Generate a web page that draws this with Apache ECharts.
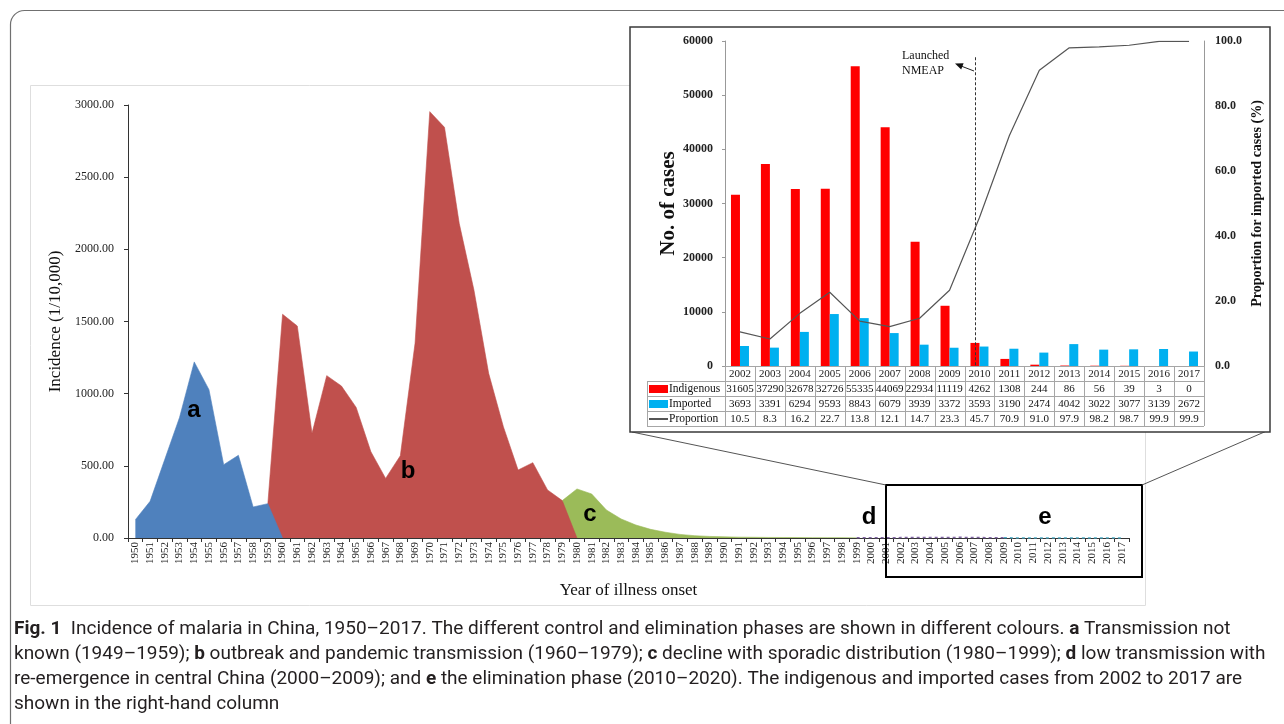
<!DOCTYPE html>
<html><head><meta charset="utf-8">
<script src="https://cdn.jsdelivr.net/npm/echarts@6/dist/echarts.min.js"></script>
<style>html,body{margin:0;padding:0;background:#fff;}#c{width:1284px;height:724px;}</style>
</head><body><div id="c"></div>
<script>
// ---------- DATA ----------
const years = [];
for (let y = 1950; y <= 2017; y++) years.push(String(y));

// Incidence (1/10,000), by phase
const phaseA = [127, 254, 545, 835, 1220, 1028, 508, 573, 215, 238];              // 1950-1959
const phaseB = [1550, 1469, 725, 1125, 1053, 905, 598, 413, 570, 1349,
                2954, 2845, 2180, 1718, 1141, 771, 471, 522, 333, 259];            // 1960-1979
const phaseC = [340, 305, 194, 132, 90, 60, 40, 25, 16, 11,
                8, 6, 5, 4, 3.5, 3, 2.5, 2.5, 2.5, 2];                             // 1980-1999
const phaseD = [2, 2, 2.7, 2.9, 3, 3.1, 4.6, 3.5, 2, 1.1];                          // 2000-2009
const phaseE = [0.6, 0.3, 0.2, 0.3, 0.2, 0.2, 0.2, 0.2];                            // 2010-2017

const yTicksMain = [0, 500, 1000, 1500, 2000, 2500, 3000];

// Inset: cases 2002-2017
const insetYears = ['2002','2003','2004','2005','2006','2007','2008','2009','2010','2011','2012','2013','2014','2015','2016','2017'];
const indigenous = [31605, 37290, 32678, 32726, 55335, 44069, 22934, 11119, 4262, 1308, 244, 86, 56, 39, 3, 0];
const imported   = [3693, 3391, 6294, 9593, 8843, 6079, 3939, 3372, 3593, 3190, 2474, 4042, 3022, 3077, 3139, 2672];
const proportion = [10.5, 8.3, 16.2, 22.7, 13.8, 12.1, 14.7, 23.3, 45.7, 70.9, 91.0, 97.9, 98.2, 98.7, 99.9, 99.9];

// ---------- helpers to place each phase on the full year axis ----------
function placed(startYear, values, before, after) {
  const arr = years.map(() => null);
  const i0 = years.indexOf(String(startYear));
  if (before !== undefined) arr[i0 - 1] = before;
  values.forEach((v, k) => { arr[i0 + k] = v; });
  if (after !== undefined) arr[i0 + values.length] = after;
  return arr;
}
const dataA = placed(1950, phaseA, undefined, 0);
const dataB = placed(1960, phaseB, phaseA[phaseA.length - 1], 0);
const dataC = placed(1980, phaseC, phaseB[phaseB.length - 1]);
const dataD = placed(2000, phaseD, phaseC[phaseC.length - 1]);
const dataE = placed(2010, phaseE, phaseD[phaseD.length - 1]);

const SERIF = '"Liberation Serif","Times New Roman",serif';
const SANS = '"Liberation Sans",Arial,sans-serif';

function areaSeries(data, color) {
  return { type: 'line', xAxisIndex: 0, yAxisIndex: 0, data, symbol: 'none', showSymbol: false,
    connectNulls: false, lineStyle: { width: 0.6, color: color }, itemStyle: { color },
    areaStyle: { color, opacity: 1 }, silent: true, z: 2 };
}
function dashSeries(data, color) {
  return { type: 'line', xAxisIndex: 0, yAxisIndex: 0, data, symbol: 'none', showSymbol: false,
    lineStyle: { width: 1.5, color, type: [3, 3] }, itemStyle: { color }, silent: true, z: 3 };
}

const option = {
  animation: false,
  backgroundColor: '#fff',
  grid: [
    { left: 128, top: 105, width: 1001, height: 433 },
    { left: 725, top: 41, width: 479, height: 325 }
  ],
  xAxis: [
    { type: 'category', gridIndex: 0, data: years, boundaryGap: true,
      axisLine: { lineStyle: { color: '#333', width: 1 } },
      axisTick: { show: true, length: 4, lineStyle: { color: '#333' } },
      axisLabel: { interval: 0, rotate: 90, fontFamily: SERIF, fontSize: 11, color: '#222', margin: 4 },
      name: 'Year of illness onset', nameLocation: 'middle', nameGap: 44,
      nameTextStyle: { fontFamily: SERIF, fontSize: 17, color: '#111' } },
    { type: 'category', gridIndex: 1, data: insetYears, boundaryGap: true, z: 30,
      axisLine: { lineStyle: { color: '#999', width: 1 } },
      axisTick: { show: false },
      axisLabel: { interval: 0, fontFamily: SERIF, fontSize: 11, color: '#222', margin: 3 } }
  ],
  yAxis: [
    { type: 'value', gridIndex: 0, min: yTicksMain[0], max: yTicksMain[yTicksMain.length - 1], interval: 500,
      axisLine: { show: true, lineStyle: { color: '#333' } },
      axisTick: { show: true, length: 4, lineStyle: { color: '#333' } },
      splitLine: { show: false },
      axisLabel: { formatter: v => v.toFixed(2), fontFamily: SERIF, fontSize: 12, color: '#222', margin: 14 },
      name: 'Incidence (1/10,000)', nameLocation: 'middle', nameGap: 60,
      nameTextStyle: { fontFamily: SERIF, fontSize: 17, color: '#111' } },
    { type: 'value', gridIndex: 1, min: 0, max: 60000, interval: 10000, z: 30,
      axisLine: { show: true, lineStyle: { color: '#999' } },
      axisTick: { show: true, length: 3, lineStyle: { color: '#999' } },
      splitLine: { show: false },
      axisLabel: { formatter: v => String(v), fontFamily: SERIF, fontSize: 12, fontWeight: 'bold', color: '#222', margin: 12 },
      name: 'No. of cases', nameLocation: 'middle', nameGap: 46, nameRotate: 90,
      nameTextStyle: { fontFamily: SERIF, fontSize: 21, fontWeight: 'bold', color: '#111' } },
    { type: 'value', gridIndex: 1, position: 'right', min: 0, max: 100, interval: 20, z: 30,
      axisLine: { show: true, lineStyle: { color: '#999' } },
      axisTick: { show: false },
      splitLine: { show: false },
      axisLabel: { formatter: v => v.toFixed(1), fontFamily: SERIF, fontSize: 12, fontWeight: 'bold', color: '#222', margin: 11 },
      name: 'Proportion for imported cases (%)', nameLocation: 'middle', nameGap: 46, nameRotate: 90,
      nameTextStyle: { fontFamily: SERIF, fontSize: 14, fontWeight: 'bold', color: '#111' } }
  ],
  series: [
    areaSeries(dataC, '#9bbb59'),
    areaSeries(dataB, '#c0504d'),
    areaSeries(dataA, '#4f81bd'),
    dashSeries(dataD, '#8064a2'),
    dashSeries(dataE, '#4bacc6'),
    { type: 'bar', name: 'Indigenous', xAxisIndex: 1, yAxisIndex: 1, data: indigenous, barWidth: 9, barGap: '0%',
      itemStyle: { color: '#ff0000' }, z: 30, silent: true,
      markLine: { silent: true, symbol: 'none', z: 32, label: { show: false },
        lineStyle: { type: [3, 2], color: '#333', width: 1 },
        data: [[{ coord: ['2010', 57000] }, { coord: ['2010', 0] }]] } },
    { type: 'bar', name: 'Imported', xAxisIndex: 1, yAxisIndex: 1, data: imported, barWidth: 9, barGap: '0%',
      itemStyle: { color: '#00b0f0' }, z: 30, silent: true },
    { type: 'line', name: 'Proportion', xAxisIndex: 1, yAxisIndex: 2, data: proportion, symbol: 'none',
      lineStyle: { color: '#555', width: 1.2 }, itemStyle: { color: '#555' }, z: 31, silent: true }
  ]
};

const chart = echarts.init(document.getElementById('c'), null, { renderer: 'canvas' });
chart.setOption(option);

// ---------- graphic layer: frames, annotations, data table, caption ----------
const g = [];
// outer figure frame
g.push({ type: 'rect', z: 0, shape: { x: 10.5, y: 10.5, width: 1300, height: 740, r: 14 },
  style: { fill: 'none', stroke: '#707070', lineWidth: 1.2 } });
// main panel frame
g.push({ type: 'rect', z: 0, shape: { x: 30.5, y: 85.5, width: 1115, height: 520 },
  style: { fill: 'none', stroke: '#dedede', lineWidth: 1 } });
// phase letters
[['a', 194, 410], ['b', 408, 471], ['c', 590, 514], ['d', 869, 517], ['e', 1045, 517]].forEach(([t, x, y]) => {
  g.push({ type: 'text', z: 10, x, y, style: { text: t, fill: '#000', fontFamily: SANS, fontWeight: 'bold',
    fontSize: 24, align: 'center', verticalAlign: 'middle' } });
});
// zoom box + connectors
g.push({ type: 'rect', z: 10, shape: { x: 886, y: 485, width: 256, height: 92 },
  style: { fill: 'none', stroke: '#000', lineWidth: 2 } });
g.push({ type: 'line', z: 15, shape: { x1: 632, y1: 432, x2: 886, y2: 485 }, style: { stroke: '#555', lineWidth: 1 } });
g.push({ type: 'line', z: 15, shape: { x1: 1142, y1: 485, x2: 1269, y2: 430 }, style: { stroke: '#555', lineWidth: 1 } });
// inset panel
g.push({ type: 'rect', z: 20, shape: { x: 630, y: 27, width: 640, height: 405 },
  style: { fill: '#fff', stroke: '#3a3a3a', lineWidth: 1.5 } });
// NMEAP annotation
g.push({ type: 'text', z: 40, x: 902, y: 48, style: { text: 'Launched\nNMEAP', fill: '#111', fontFamily: SERIF,
  fontSize: 12, lineHeight: 15, align: 'left', verticalAlign: 'top' } });
g.push({ type: 'line', z: 40, shape: { x1: 974, y1: 71, x2: 961, y2: 66 }, style: { stroke: '#222', lineWidth: 1 } });
g.push({ type: 'polygon', z: 40, shape: { points: [[955, 63.5], [963.6, 63.2], [961.2, 69.6]] }, style: { fill: '#111' } });

// data table under the inset, aligned with the inset category axis
const cx = insetYears.map((_, i) => chart.convertToPixel({ xAxisIndex: 1 }, i));
const colW = cx[1] - cx[0];
const tL = cx[0] - colW / 2, tR = cx[cx.length - 1] + colW / 2;
const y0 = chart.convertToPixel({ yAxisIndex: 1 }, 0);
const rowH = 15;
const labL = 647;
const gridC = '#a6a6a6';
g.push({ type: 'line', z: 40, shape: { x1: tL, y1: y0 + 0.5, x2: tR, y2: y0 + 0.5 }, style: { stroke: gridC, lineWidth: 1 } });
for (let r = 1; r <= 4; r++) {
  const yy = Math.round(y0 + r * rowH) + 0.5;
  g.push({ type: 'line', z: 40, shape: { x1: labL, y1: yy, x2: tR, y2: yy }, style: { stroke: gridC, lineWidth: 1 } });
}
for (let k = 0; k <= insetYears.length; k++) {
  const xx = Math.round(tL + k * colW) + 0.5;
  g.push({ type: 'line', z: 40, shape: { x1: xx, y1: y0, x2: xx, y2: y0 + 4 * rowH }, style: { stroke: gridC, lineWidth: 1 } });
}
g.push({ type: 'line', z: 40, shape: { x1: labL + 0.5, y1: y0 + rowH, x2: labL + 0.5, y2: y0 + 4 * rowH }, style: { stroke: gridC, lineWidth: 1 } });
const rows = [
  { name: 'Indigenous', vals: indigenous.map(String), key: 'rect', color: '#ff0000' },
  { name: 'Imported', vals: imported.map(String), key: 'rect', color: '#00b0f0' },
  { name: 'Proportion', vals: proportion.map(v => v.toFixed(1)), key: 'line', color: '#555' }
];
rows.forEach((row, r) => {
  const yc = y0 + (r + 1) * rowH + rowH / 2 + 0.5;
  if (row.key === 'rect') {
    g.push({ type: 'rect', z: 40, shape: { x: 649, y: yc - 4, width: 19, height: 8 }, style: { fill: row.color } });
  } else {
    g.push({ type: 'line', z: 40, shape: { x1: 649, y1: yc, x2: 668, y2: yc }, style: { stroke: row.color, lineWidth: 2 } });
  }
  g.push({ type: 'text', z: 40, x: 669, y: yc, style: { text: row.name, fill: '#111', fontFamily: SERIF, fontSize: 11.5,
    align: 'left', verticalAlign: 'middle' } });
  row.vals.forEach((t, i) => {
    g.push({ type: 'text', z: 40, x: cx[i], y: yc, style: { text: t, fill: '#111', fontFamily: SERIF, fontSize: 11,
      align: 'center', verticalAlign: 'middle' } });
  });
});

// caption
const caption =
  '{b|Fig. 1}  Incidence of malaria in China, 1950–2017. The different control and elimination phases are shown in different colours. {b|a} Transmission not\n' +
  'known (1949–1959); {b|b} outbreak and pandemic transmission (1960–1979); {b|c} decline with sporadic distribution (1980–1999); {b|d} low transmission with\n' +
  're-emergence in central China (2000–2009); and {b|e} the elimination phase (2010–2020). The indigenous and imported cases from 2002 to 2017 are\n' +
  'shown in the right-hand column';
const CAPF = 'Roboto, "Noto Sans", sans-serif';
g.push({ type: 'text', z: 40, x: 14, y: 617, style: { text: caption, fill: '#231f20', fontFamily: CAPF,
  fontSize: 19, lineHeight: 25, align: 'left', verticalAlign: 'top',
  rich: { b: { fontWeight: 'bold', fontSize: 19, lineHeight: 25, fontFamily: CAPF, fill: '#231f20' } } } });

chart.setOption({ graphic: { elements: g } });
</script>
</body></html>
